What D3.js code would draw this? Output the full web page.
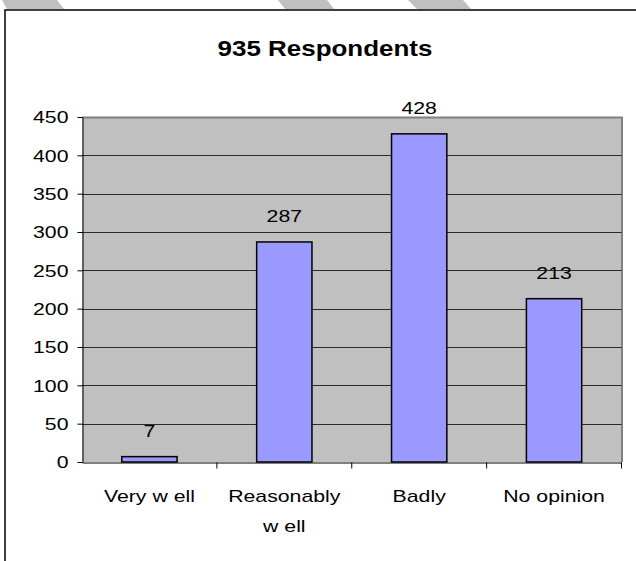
<!DOCTYPE html>
<html>
<head>
<meta charset="utf-8">
<script src="https://cdn.jsdelivr.net/npm/d3@7"></script>
<style>
  body { margin: 0; background: #fff; }
  text { font-family: "Liberation Sans", Arial, sans-serif; fill: #000; }
</style>
</head>
<body>
<div id="chart"></div>
<script>
// data
var categories = ["Very w ell", "Reasonably\nw ell", "Badly", "No opinion"];
var counts = [7, 287, 428, 213];
var yTicks = [0, 50, 100, 150, 200, 250, 300, 350, 400, 450];
var title = "935 Respondents";

var width = 636, height = 561;
var stretch = 1.25; // the source picture is stretched sideways
var fontSize = 17;

var svg = d3.select("#chart").append("svg")
    .attr("width", width)
    .attr("height", height);

// grey watermark stripes peeking in at the top
var stripes = [
    [[2, 0], [57, 0], [64, 9], [7, 9]],
    [[278, 0], [327, 0], [334, 9], [285, 9]],
    [[408, 0], [463, 0], [471, 9], [417, 9]]
];
svg.selectAll("polygon.stripe").data(stripes)
    .enter().append("polygon")
    .attr("class", "stripe")
    .attr("points", function(d) { return d.join(" "); })
    .attr("fill", "#c0c0c0");

// outer frame (runs off the right and bottom of the picture)
svg.append("rect")
    .attr("x", 5).attr("y", 10)
    .attr("width", 700).attr("height", 700)
    .attr("fill", "#fff")
    .attr("stroke", "#000")
    .attr("stroke-width", 1.5);

var plotL = 82, plotR = 621.5, plotT = 117, plotB = 462;

var x = d3.scaleBand()
    .domain(categories)
    .range([plotL, plotR])
    .paddingInner(0.59)
    .paddingOuter(0.295);

var xCat = d3.scaleBand()
    .domain(categories)
    .range([plotL, plotR]);

var y = d3.scaleLinear()
    .domain([0, 450])
    .range([plotB, plotT]);

// plot area
svg.append("rect")
    .attr("x", plotL).attr("y", plotT)
    .attr("width", plotR - plotL).attr("height", plotB - plotT)
    .attr("fill", "#c0c0c0");

svg.append("path")
    .attr("d", "M" + plotL + "," + (plotT + 0.5) + "H" + (plotR + 0.5) + "V" + plotB)
    .attr("fill", "none")
    .attr("stroke", "#808080")
    .attr("stroke-width", 2);

// gridlines
svg.selectAll("line.grid").data(yTicks.filter(function(t) { return t > 0 && t < 450; }))
    .enter().append("line")
    .attr("class", "grid")
    .attr("x1", plotL).attr("x2", plotR)
    .attr("y1", function(d) { return Math.round(y(d)) + 0.5; })
    .attr("y2", function(d) { return Math.round(y(d)) + 0.5; })
    .attr("stroke", "#2b2b2b")
    .attr("stroke-width", 1.2);

// bars
svg.selectAll("rect.bar").data(counts)
    .enter().append("rect")
    .attr("class", "bar")
    .attr("x", function(d, i) { return x(categories[i]); })
    .attr("y", function(d) { return y(d); })
    .attr("width", x.bandwidth())
    .attr("height", function(d) { return plotB - y(d); })
    .attr("fill", "#9999ff")
    .attr("stroke", "#000")
    .attr("stroke-width", 1.5);

// value labels
svg.selectAll("text.val").data(counts)
    .enter().append("text")
    .attr("class", "val")
    .attr("text-anchor", "middle")
    .attr("font-size", fontSize)
    .attr("transform", function(d, i) {
        return "translate(" + (x(categories[i]) + x.bandwidth() / 2) + "," + (y(d) - 20) + ") scale(" + stretch + ",1)";
    })
    .text(function(d) { return d; });

// y axis
var yAxis = d3.axisLeft(y).tickValues(yTicks).tickSize(5).tickSizeOuter(0).tickPadding(9);
var gy = svg.append("g")
    .attr("transform", "translate(" + (plotL + 0.5) + ",0)")
    .call(yAxis);
gy.select(".domain").attr("stroke", "#000");
gy.selectAll(".tick line").attr("stroke", "#000");
gy.selectAll(".tick text")
    .attr("font-size", fontSize)
    .attr("font-family", "Liberation Sans, Arial, sans-serif")
    .attr("fill", "#000")
    .attr("dy", "0.35em")
    .each(function() {
        var t = d3.select(this);
        var xx = +t.attr("x");
        t.attr("x", null)
         .attr("transform", "translate(" + xx + ",0) scale(" + stretch + ",1)");
    });

// x axis
var xAxis = d3.axisBottom(xCat).tickSize(0).tickFormat("");
var gx = svg.append("g")
    .attr("transform", "translate(0," + (plotB + 0.5) + ")")
    .call(xAxis);
gx.select(".domain").attr("stroke", "#000");
gx.selectAll("line.sep").data(categories)
    .enter().append("line")
    .attr("class", "sep")
    .attr("x1", function(d) { return xCat(d) + xCat.bandwidth(); })
    .attr("x2", function(d) { return xCat(d) + xCat.bandwidth(); })
    .attr("y1", 0).attr("y2", 6)
    .attr("stroke", "#000");

// category labels, may wrap onto two lines
var catLabels = svg.selectAll("text.cat").data(categories)
    .enter().append("text")
    .attr("class", "cat")
    .attr("text-anchor", "middle")
    .attr("font-size", fontSize)
    .attr("transform", function(d) {
        return "translate(" + (xCat(d) + xCat.bandwidth() / 2) + ",502) scale(" + stretch + ",1)";
    });
catLabels.each(function(d) {
    var t = d3.select(this);
    d.split("\n").forEach(function(line, k) {
        t.append("tspan").attr("x", 0).attr("y", k * 30).text(line);
    });
});

// title
svg.append("text")
    .attr("text-anchor", "middle")
    .attr("font-size", 22)
    .attr("font-weight", "bold")
    .attr("transform", "translate(325,56) scale(1.18,1)")
    .text(title);
</script>
</body>
</html>
